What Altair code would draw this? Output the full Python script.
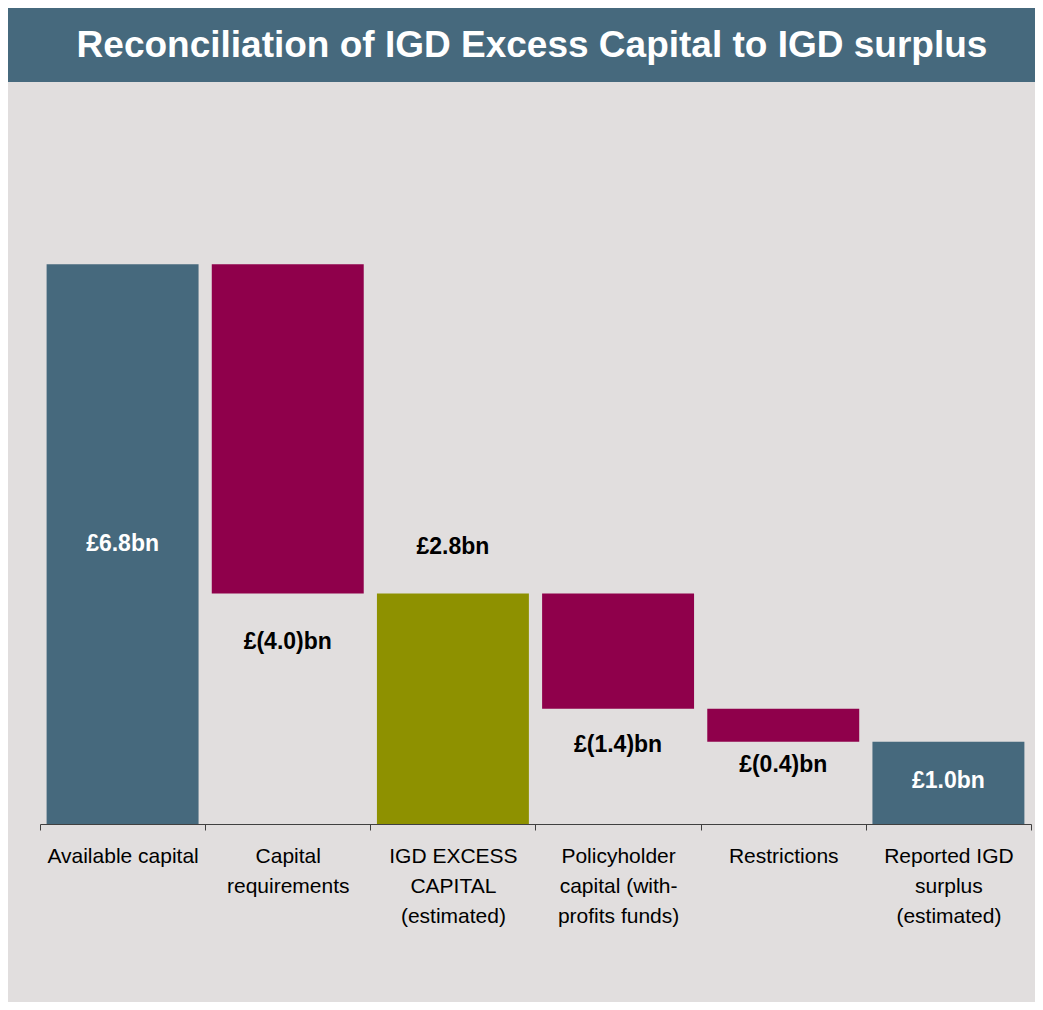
import altair as alt
import pandas as pd

# ---- data ----
categories = [
    "Available capital",
    "Capital\nrequirements",
    "IGD EXCESS\nCAPITAL\n(estimated)",
    "Policyholder\ncapital (with-\nprofits funds)",
    "Restrictions",
    "Reported IGD\nsurplus\n(estimated)",
]
amounts = [6.8, -4.0, 2.8, -1.4, -0.4, 1.0]
kinds = ["total", "delta", "subtotal", "delta", "delta", "total"]
value_labels = ["£6.8bn", "£(4.0)bn", "£2.8bn", "£(1.4)bn", "£(0.4)bn", "£1.0bn"]
title_text = "Reconciliation of IGD Excess Capital to IGD surplus"

# ---- styles ----
TEAL = "#46697D"
CRIMSON = "#8F004B"
OLIVE = "#8E9100"
BG = "#E1DEDE"
FONT = "Liberation Sans"
kind_colors = {"total": TEAL, "delta": CRIMSON, "subtotal": OLIVE}
label_dy = [0, 49, -46, 36, 23, -2]

# ---- waterfall geometry derived from the values ----
starts, ends = [], []
running = 0.0
for a, k in zip(amounts, kinds):
    if k == "delta":
        s, e = running, running + a
    else:
        s, e = 0.0, a
    running = e
    starts.append(s)
    ends.append(e)

df = pd.DataFrame({
    "idx": list(range(len(categories))),
    "category": categories,
    "kind": kinds,
    "start": starts,
    "end": ends,
    "label": value_labels,
})
df["low"] = df[["start", "end"]].min(axis=1)
df["high"] = df[["start", "end"]].max(axis=1)
df["mid"] = (df["low"] + df["high"]) / 2
df["anchor"] = [
    m if k == "total" else (h if k == "subtotal" else l)
    for k, m, h, l in zip(df["kind"], df["mid"], df["high"], df["low"])
]

W, H = 991, 741
P_IN, P_OUT = 0.08, 0.04
step = W / (len(categories) - P_IN + 2 * P_OUT)
shift = P_OUT * step
band_pos = 1.0 / (1.0 - P_IN)

yscale = alt.Scale(domain=[0, 9], nice=False, zero=True)
x_enc = alt.X(
    "category:N",
    sort=categories,
    scale=alt.Scale(paddingInner=P_IN, paddingOuter=P_OUT),
    axis=alt.Axis(
        title=None,
        labelExpr="split(datum.label, '\\n')",
        labelAngle=0,
        labelFont=FONT,
        labelFontSize=21,
        labelColor="#000000",
        labelPadding=15,
        labelLineHeight=30,
        labelLimit=300,
        domainColor="#404040",
        tickColor="#404040",
        tickSize=6,
        bandPosition=band_pos,
        tickExtra=True,
        tickOffset=-shift,
        labelOffset=shift,
        grid=False,
    ),
)

bars = alt.Chart(df).mark_bar().encode(
    x=x_enc,
    y=alt.Y("low:Q", scale=yscale, axis=None),
    y2="high:Q",
    color=alt.Color(
        "kind:N",
        scale=alt.Scale(domain=list(kind_colors.keys()), range=list(kind_colors.values())),
        legend=None,
    ),
)

label_layers = []
for i, k in enumerate(kinds):
    label_layers.append(
        alt.Chart(df)
        .transform_filter(alt.datum.idx == i)
        .mark_text(
            font=FONT,
            fontSize=23,
            fontWeight="bold",
            color="#FFFFFF" if k == "total" else "#000000",
            align="center",
            baseline="middle",
            dy=label_dy[i],
        )
        .encode(
            x=x_enc,
            y=alt.Y("anchor:Q", scale=yscale, axis=None),
            text="label:N",
        )
    )

title_df = pd.DataFrame({"t": [title_text]})
title_bar = alt.Chart(title_df).mark_rect(color=TEAL).encode(
    x=alt.value(-32), x2=alt.value(W + 4), y=alt.value(-75), y2=alt.value(-1)
)
title = alt.Chart(title_df).mark_text(
    font=FONT, fontSize=37, fontWeight="bold", color="#FFFFFF",
    align="center", baseline="middle",
).encode(text="t:N", x=alt.value(492), y=alt.value(-37))

chart = (
    alt.layer(title_bar, title, bars, *label_layers)
    .properties(
        width=W,
        height=H,
        padding={"left": 32, "top": 75, "right": 4, "bottom": 178},
        autosize=alt.AutoSizeParams(type="none"),
        background=BG,
    )
    .configure_view(stroke=None, fill=BG)
)

chart.save("out.html", embed_options={"renderer": "svg", "actions": False})
